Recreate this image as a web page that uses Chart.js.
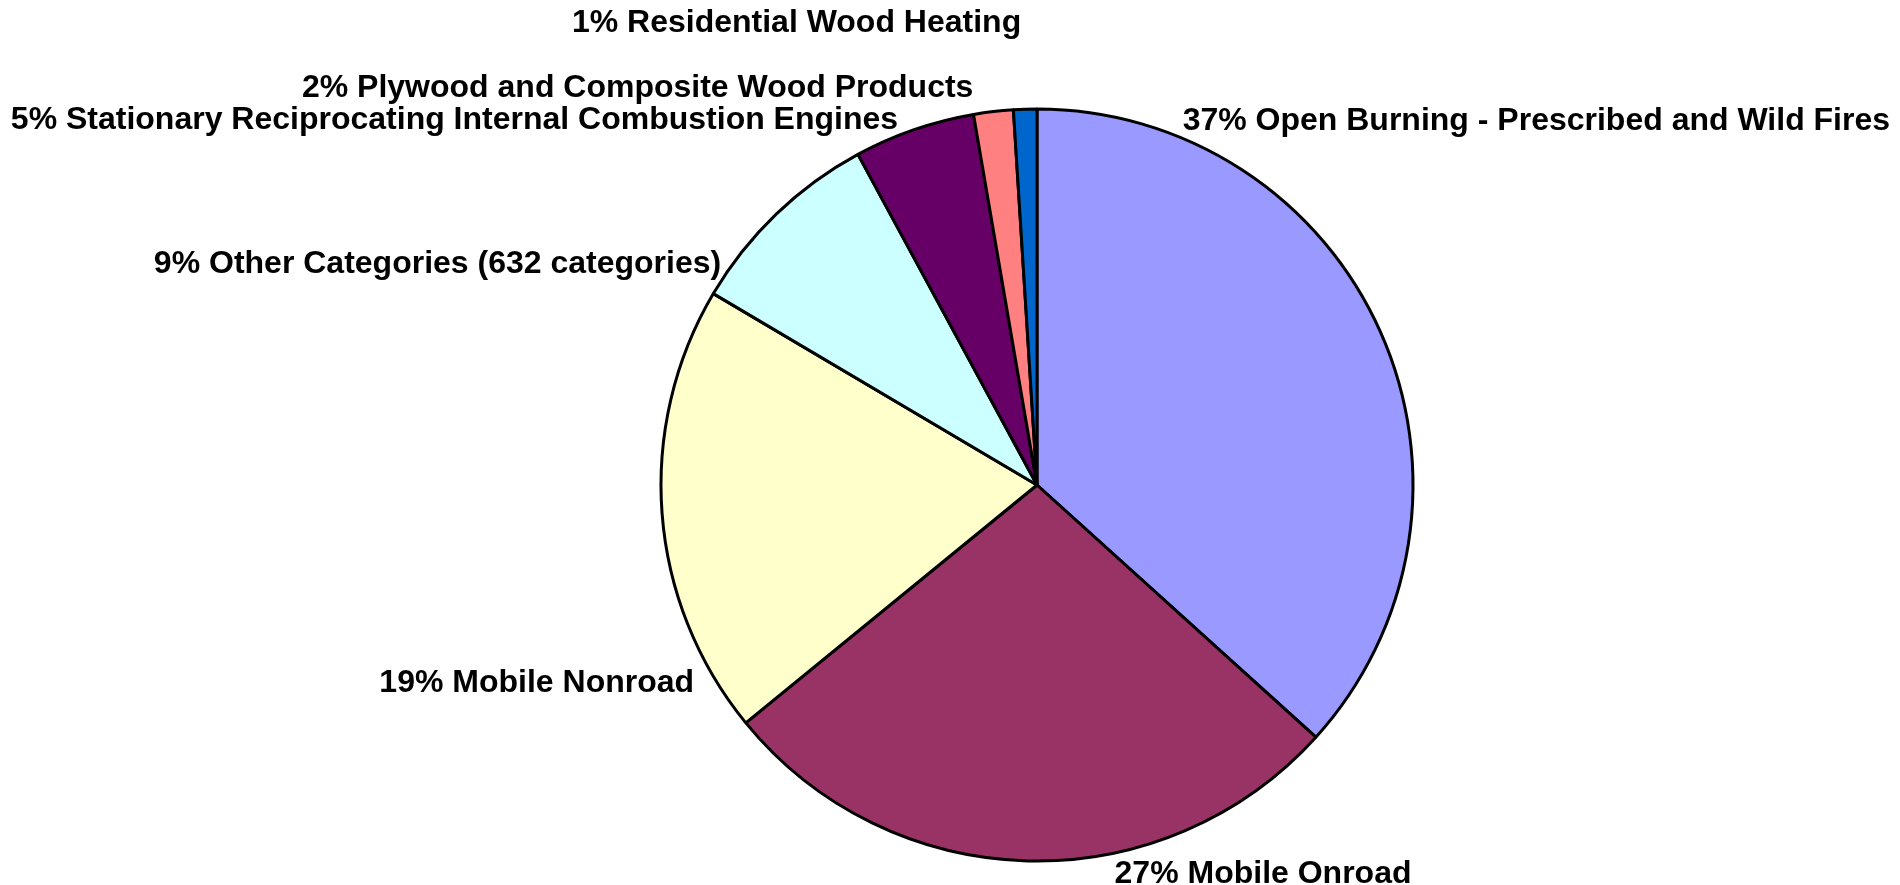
<!DOCTYPE html>
<html>
<head>
<meta charset="utf-8">
<title>Emissions by category</title>
<script src="https://cdn.jsdelivr.net/npm/chart.js@4"></script>
<style>
    html, body { margin: 0; padding: 0; background: #fff; }
    #wrap { width: 1900px; height: 885px; position: relative; }
</style>
</head>
<body>
<div id="wrap"><canvas id="pieChart"></canvas></div>
<script>
// Categories and their shares (percent), clockwise from 12 o'clock
const categories = [
    'Open Burning - Prescribed and Wild Fires',
    'Mobile Onroad',
    'Mobile Nonroad',
    'Other Categories (632 categories)',
    'Stationary Reciprocating Internal Combustion Engines',
    'Plywood and Composite Wood Products',
    'Residential Wood Heating'
];
const shares = [36.7, 27.4, 19.4, 8.6, 5.2, 1.7, 1.0];
const shareLabels = ['37%', '27%', '19%', '9%', '5%', '2%', '1%'];
const sliceColors = ['#9999FF', '#993366', '#FFFFCC', '#CCFFFF', '#660066', '#FF8080', '#0066CC'];

// Label placement: nudge from the slice's outer mid point, and text alignment
const labelNudge = [[-198, -211], [87, 13], [32, 170], [-55, 50], [-16, -9], [-20, -23], [-4, -86]];
const labelAlign = ['left', 'left', 'right', 'right', 'right', 'right', 'right'];

const sliceLabels = {
    id: 'sliceLabels',
    afterDatasetsDraw(chart) {
        const ctx = chart.ctx;
        const meta = chart.getDatasetMeta(0);
        ctx.save();
        ctx.font = 'bold 32px "Liberation Sans", Arial, sans-serif';
        ctx.fillStyle = '#000';
        ctx.textBaseline = 'middle';
        meta.data.forEach((arc, i) => {
            const mid = (arc.startAngle + arc.endAngle) / 2;
            const x = arc.x + Math.cos(mid) * arc.outerRadius + labelNudge[i][0];
            const y = arc.y + Math.sin(mid) * arc.outerRadius + labelNudge[i][1];
            ctx.textAlign = labelAlign[i];
            ctx.fillText(shareLabels[i] + ' ' + categories[i], x, y);
        });
        ctx.restore();
    }
};

const ctx = document.getElementById('pieChart').getContext('2d');
const chart = new Chart(ctx, {
    type: 'pie',
    data: {
        labels: categories,
        datasets: [{
            data: shares,
            backgroundColor: sliceColors,
            borderColor: '#000',
            borderWidth: 3
        }]
    },
    options: {
        responsive: true,
        maintainAspectRatio: false,
        animation: false,
        radius: 376,
        layout: {
            padding: { left: 174, right: 0, top: 85, bottom: 0 }
        },
        plugins: {
            legend: { display: false },
            tooltip: { enabled: false }
        }
    },
    plugins: [sliceLabels]
});
</script>
</body>
</html>
